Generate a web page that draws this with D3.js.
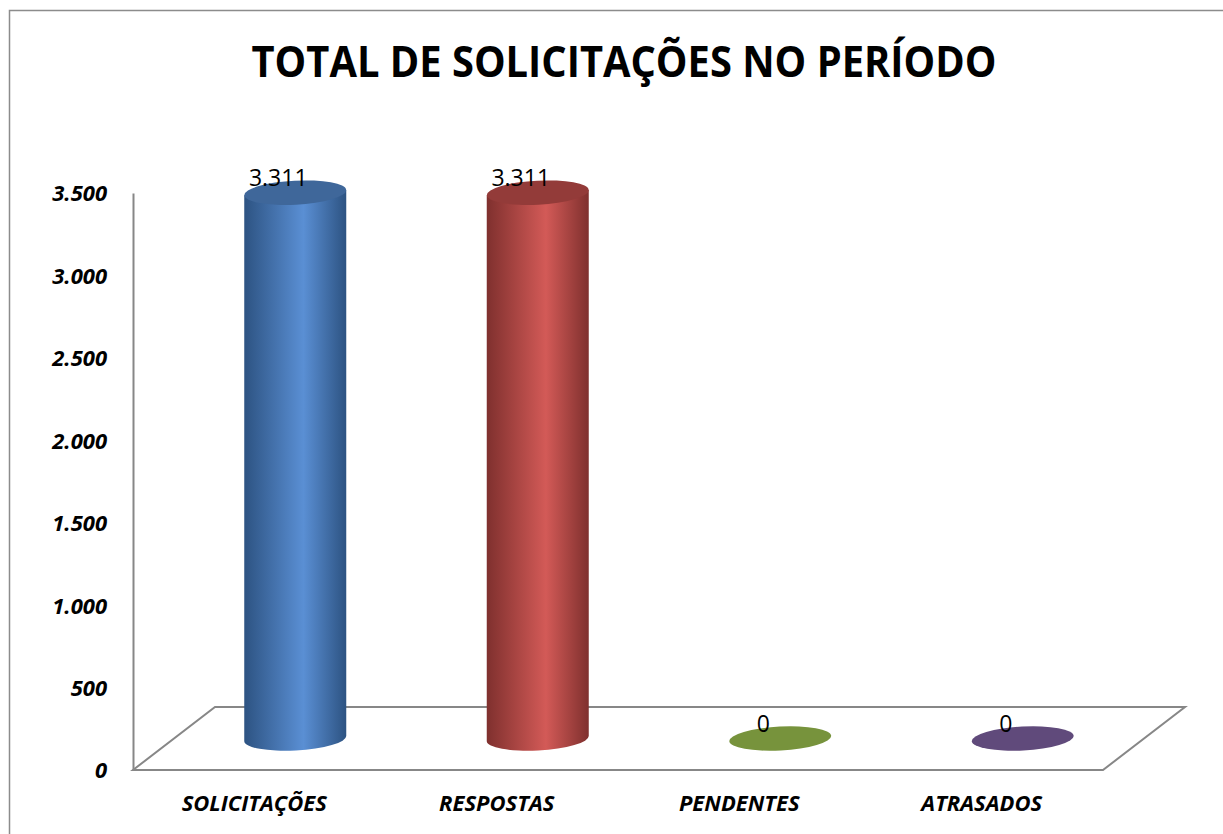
<!DOCTYPE html>
<html>
<head>
<meta charset="utf-8">
<script src="https://cdn.jsdelivr.net/npm/d3@7"></script>
<style>
  html, body { margin: 0; padding: 0; background: #fff; }
  svg { display: block; }
</style>
</head>
<body>
<script>
// Chart data
const categories = ["SOLICITAÇÕES", "RESPOSTAS", "PENDENTES", "ATRASADOS"];
const values = [3311, 3311, 0, 0];
const yTicks = [0, 500, 1000, 1500, 2000, 2500, 3000, 3500];
const titleText = "TOTAL DE SOLICITAÇÕES NO PERÍODO";

// colours per bar: [edge, highlight, top]
const barColors = [
  ["#2d5382", "#5a8fd4", "#3f679a"],
  ["#7f302e", "#d35a57", "#933b39"],
  ["#5d7430", "#8fb04a", "#77933c"],
  ["#4a395f", "#7a5f9a", "#604a7b"]
];

const width = 1223, height = 834;
const plot = { left: 133, right: 1103, top: 193, bottom: 770 };
const depth = { dx: 82, dy: -63 }; // floor depth offset

const ptBR = d3.formatLocale({ decimal: ",", thousands: ".", grouping: [3], currency: ["R$", ""] });
const fmt = ptBR.format(",d");

const svg = d3.select("body").append("svg")
  .attr("width", width)
  .attr("height", height);

const defs = svg.append("defs");

// outer chart border (runs off right/bottom edge)
svg.append("path")
  .attr("d", `M9.5,${height + 5} L9.5,10.5 L${width + 5},10.5`)
  .attr("fill", "none")
  .attr("stroke", "#8c8c8c")
  .attr("stroke-width", 1.5);

// Title
svg.append("text")
  .attr("x", 624)
  .attr("y", 77)
  .attr("text-anchor", "middle")
  .attr("textLength", 745)
  .attr("lengthAdjust", "spacingAndGlyphs")
  .style("font-family", '"Open Sans", sans-serif')
  .style("font-weight", "700")
  .style("font-size", "43px")
  .text(titleText);

// scales
const x = d3.scaleBand()
  .domain(categories)
  .range([plot.left, plot.right]);

const y = d3.scaleLinear()
  .domain([0, 3500])
  .range([plot.bottom, plot.top]);

// Floor
const floorPts = [
  [plot.left, plot.bottom],
  [plot.right, plot.bottom],
  [plot.right + depth.dx, plot.bottom + depth.dy],
  [plot.left + depth.dx, plot.bottom + depth.dy]
];
svg.append("path")
  .attr("d", d3.line()(floorPts) + "Z")
  .attr("fill", "none")
  .attr("stroke", "#878787")
  .attr("stroke-width", 2);

// Y axis
const yAxis = d3.axisLeft(y)
  .tickValues(yTicks)
  .tickSize(0)
  .tickPadding(26)
  .tickFormat(fmt);

const gy = svg.append("g")
  .attr("transform", `translate(${plot.left},0)`)
  .call(yAxis);
gy.select(".domain")
  .attr("stroke", "#878787")
  .attr("stroke-width", 2);
gy.selectAll(".tick text")
  .attr("fill", "#000")
  .attr("dy", "0.36em")
  .style("font-family", '"Open Sans", sans-serif')
  .style("font-weight", "700")
  .style("font-style", "italic")
  .style("font-size", "22px");

// X labels
svg.append("g")
  .selectAll("text")
  .data(categories)
  .join("text")
  .attr("x", (d) => x(d) + x.bandwidth() / 2)
  .attr("y", 811)
  .attr("text-anchor", "middle")
  .style("font-family", '"Open Sans", sans-serif')
  .style("font-weight", "700")
  .style("font-style", "italic")
  .style("font-size", "22px")
  .text((d) => d);

// Cylinders (placed at mid depth)
const half = { dx: depth.dx / 2, dy: depth.dy / 2 };
const rx = 51, ry = 12, tilt = -3;

const bars = categories.map((c, i) => ({
  key: c,
  value: values[i],
  color: barColors[i],
  cx: x(c) + x.bandwidth() / 2 + half.dx,
  yBase: y(0) + half.dy,
  yTop: y(values[i]) + half.dy
}));

bars.forEach((b, i) => {
  const grad = defs.append("linearGradient")
    .attr("id", "cyl" + i)
    .attr("x1", "0").attr("x2", "1").attr("y1", "0").attr("y2", "0");
  grad.append("stop").attr("offset", "0%").attr("stop-color", b.color[0]);
  grad.append("stop").attr("offset", "58%").attr("stop-color", b.color[1]);
  grad.append("stop").attr("offset", "100%").attr("stop-color", b.color[0]);
});

const gBars = svg.append("g")
  .selectAll("g")
  .data(bars)
  .join("g");

// body: side walls + bottom half ellipse
gBars.filter((d) => d.value > 0)
  .append("path")
  .attr("d", (d) => {
    const l = d.cx - rx, r = d.cx + rx;
    const dyT = Math.sin(tilt * Math.PI / 180) * rx;
    return `M${l},${d.yTop - dyT} L${l},${d.yBase - dyT} ` +
      `A${rx},${ry} ${tilt} 0 0 ${r},${d.yBase + dyT} ` +
      `L${r},${d.yTop + dyT} Z`;
  })
  .attr("fill", (d) => `url(#cyl${bars.indexOf(d)})`);

// top cap
gBars.append("ellipse")
  .attr("cx", (d) => d.cx)
  .attr("cy", (d) => d.yTop)
  .attr("rx", rx)
  .attr("ry", ry)
  .attr("transform", (d) => `rotate(${tilt},${d.cx},${d.yTop})`)
  .attr("fill", (d) => d.color[2]);

// value labels
gBars.append("text")
  .attr("x", (d) => d.cx - 17)
  .attr("y", (d) => d.yTop - 7)
  .attr("text-anchor", "middle")
  .style("font-family", '"Open Sans", sans-serif')
  .style("font-size", "23px")
  .attr("fill", "#000")
  .text((d) => fmt(d.value));
</script>
</body>
</html>
